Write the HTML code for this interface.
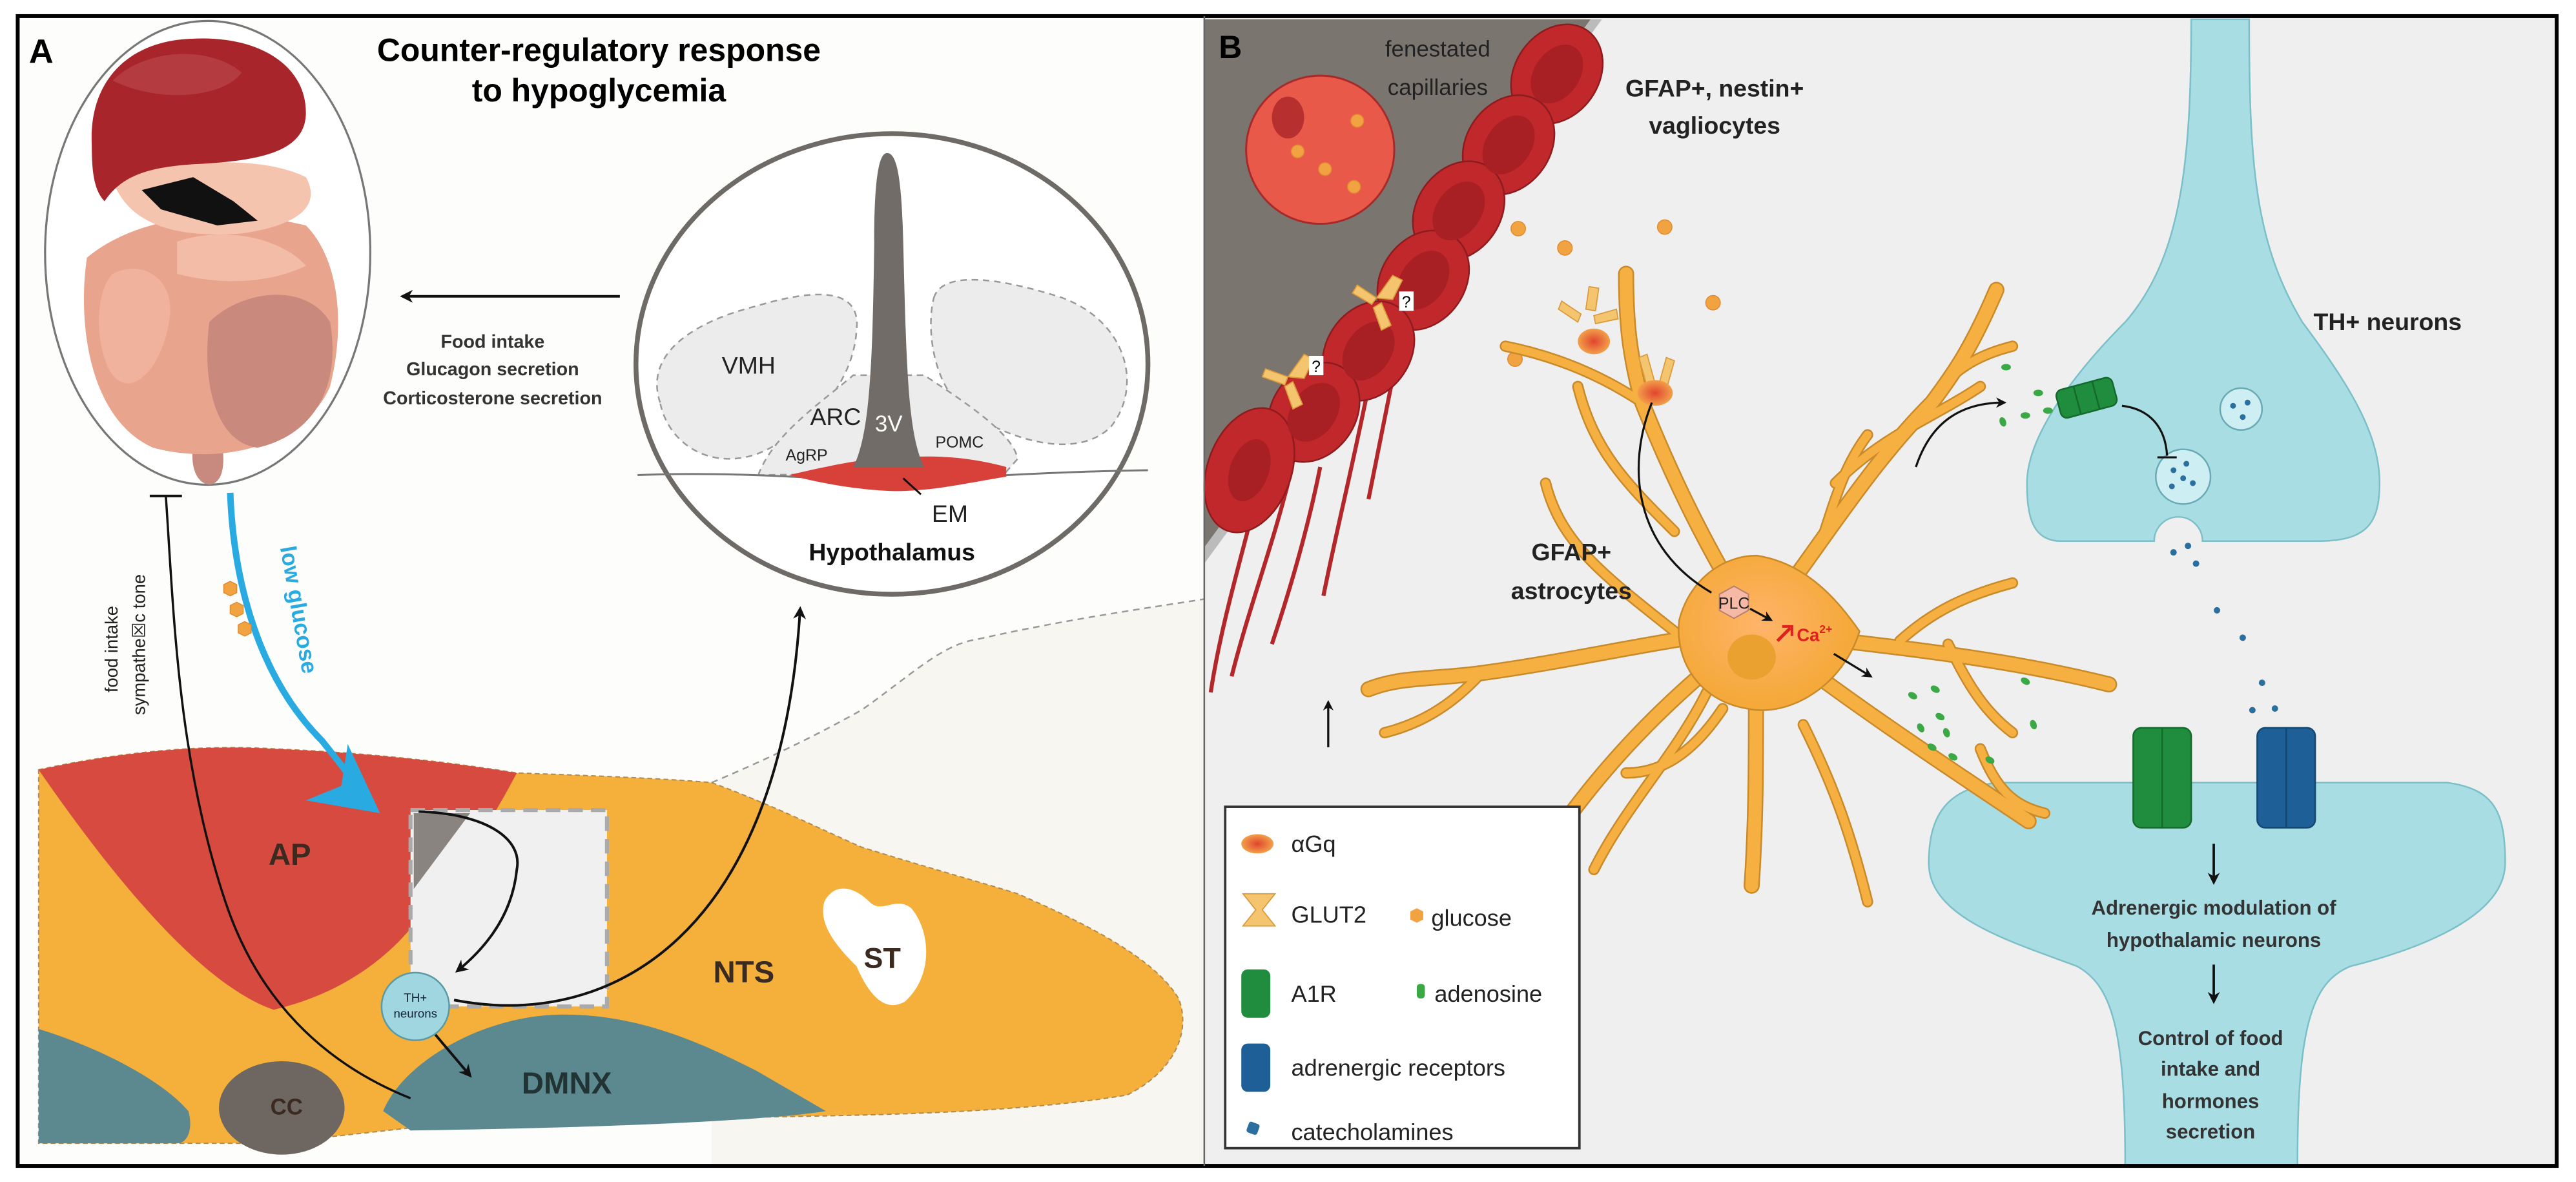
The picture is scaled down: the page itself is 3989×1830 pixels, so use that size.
<!DOCTYPE html>
<html><head><meta charset="utf-8"><style>
html,body{margin:0;padding:0;background:#fff;}
svg{display:block;}
text{font-family:"Liberation Sans",sans-serif;}
</style></head><body>
<svg width="3989" height="1830" viewBox="0 0 1600 734" preserveAspectRatio="none" xmlns="http://www.w3.org/2000/svg">
<defs>
<marker id="ah" viewBox="0 0 10 10" refX="8" refY="5" markerWidth="5" markerHeight="5" orient="auto"><path d="M0,0 L10,5 L0,10 L3,5 Z" fill="#111"/></marker>
<radialGradient id="gq"><stop offset="0" stop-color="#e0452e"/><stop offset="1" stop-color="#f3a04a"/></radialGradient>
<radialGradient id="cell" cx="0.45" cy="0.45"><stop offset="0" stop-color="#ffb46a"/><stop offset="1" stop-color="#f5a93a"/></radialGradient>
</defs>
<rect x="0" y="0" width="1600" height="734" fill="#fff"/>
<rect x="11" y="10" width="737" height="714" fill="#fdfdfc"/>
<path d="M442,486 C480,470 510,455 535,441 C565,420 585,400 607,397 C660,385 710,378 748,372 L748,724 L442,724 Z" fill="#f8f6f1"/>
<rect x="748" y="10" width="840" height="714" fill="#efefef"/>

<!-- ===== PANEL A ===== -->
<text x="18" y="39" font-size="21" font-weight="bold">A</text>
<text x="372" y="38" font-size="20" font-weight="bold" text-anchor="middle">Counter-regulatory response</text>
<text x="372" y="63" font-size="20" font-weight="bold" text-anchor="middle">to hypoglycemia</text>

<ellipse cx="129" cy="157" rx="101" ry="144" fill="#fff" stroke="#777" stroke-width="1.3"/>
<path d="M120,276 C118,290 122,300 130,301 C138,300 140,290 138,276 Z" fill="#c88a7e"/>
<path d="M54,160 C48,200 55,260 95,278 C140,290 190,275 205,240 C215,200 210,160 190,140 C150,130 90,130 54,160 Z" fill="#e9a48e"/>
<path d="M130,200 C150,180 190,175 205,200 C212,240 195,270 160,278 C135,275 125,240 130,200Z" fill="#c9897c"/>
<path d="M70,170 C90,160 110,175 105,200 C100,230 80,250 68,230 C58,210 60,180 70,170Z" fill="#f0b29c"/>
<path d="M110,150 C140,140 175,148 190,165 C170,175 140,178 110,170 Z" fill="#f3bca6"/>
<path d="M70,112 C100,100 160,95 190,110 C200,128 185,140 150,145 C110,148 80,140 70,112Z" fill="#f5c4ae"/>
<path d="M88,118 L120,110 L145,125 L160,137 L135,140 L100,130 Z" fill="#111"/>
<path d="M57,90 C55,50 80,25 120,24 C160,22 190,40 190,70 C190,95 160,100 120,102 C90,104 75,110 65,125 C58,118 57,105 57,90Z" fill="#a8262b"/>
<path d="M70,50 C90,30 130,28 150,45 C140,60 100,65 70,50Z" fill="#bd4a4d" opacity="0.6"/>

<line x1="385" y1="184" x2="250" y2="184" stroke="#111" stroke-width="1.6" marker-end="url(#ah)"/>
<g font-size="11.5" font-weight="bold" fill="#333" text-anchor="middle">
<text x="306" y="216">Food intake</text>
<text x="306" y="233">Glucagon secretion</text>
<text x="306" y="251">Corticosterone secretion</text>
</g>

<ellipse cx="554" cy="226" rx="159" ry="143" fill="#fff" stroke="#6e6a66" stroke-width="3"/>
<path d="M410,250 C400,220 430,200 470,190 C510,178 535,180 532,205 C530,240 500,270 470,282 C440,292 415,275 410,250Z" fill="#ececec" stroke="#999" stroke-width="1" stroke-dasharray="4,3"/>
<path d="M580,185 C585,168 620,172 660,185 C700,200 710,240 690,265 C670,285 630,275 600,255 C580,240 575,205 580,185Z" fill="#ececec" stroke="#999" stroke-width="1" stroke-dasharray="4,3"/>
<path d="M471,295 C480,270 510,250 530,233 L574,233 C600,250 630,270 632,285 L625,293 Z" fill="#ececec" stroke="#999" stroke-width="1" stroke-dasharray="4,3"/>
<path d="M396,295 C450,293 500,296 554,300 C600,296 650,293 713,292" fill="none" stroke="#777" stroke-width="1.2"/>
<path d="M490,295 C520,288 540,284 560,284 C590,282 610,286 625,290 L625,296 C600,300 580,305 555,305 C530,304 510,300 490,295Z" fill="#d8403a"/>
<path d="M530,290 C540,270 542,230 543,150 C543,110 546,95 551,95 C557,95 560,110 561,150 C563,230 564,270 574,290 Z" fill="#716c67"/>
<line x1="561" y1="297" x2="572" y2="307" stroke="#111" stroke-width="1.2"/>
<text x="465" y="232" font-size="15" text-anchor="middle" fill="#222">VMH</text>
<text x="519" y="264" font-size="15" text-anchor="middle" fill="#222">ARC</text>
<text x="552" y="268" font-size="14" text-anchor="middle" fill="#fff">3V</text>
<text x="501" y="286" font-size="10" text-anchor="middle" fill="#222">AgRP</text>
<text x="596" y="278" font-size="10" text-anchor="middle" fill="#222">POMC</text>
<text x="590" y="324" font-size="15" text-anchor="middle" fill="#222">EM</text>
<text x="554" y="348" font-size="15" font-weight="bold" text-anchor="middle" fill="#111">Hypothalamus</text>

<path d="M442,486 C480,470 510,455 535,441 C565,420 585,400 607,397 C660,385 710,378 748,372" fill="none" stroke="#999" stroke-width="1" stroke-dasharray="4,3"/>
<path d="M24,478 C70,468 120,462 170,465 C240,468 290,475 321,480 C380,482 420,484 442,486 C480,500 510,515 535,526 C580,540 610,548 632,555 C690,580 720,600 732,620 C740,640 730,665 700,680 C640,690 560,692 510,693 L290,697 C250,700 200,708 150,710 L24,710 Z" fill="#f4b03a" stroke="#b08a50" stroke-width="0.8" stroke-dasharray="3,2"/>
<path d="M24,478 C70,468 120,462 170,465 C240,468 290,475 321,480 C300,520 275,555 253,579 C230,605 200,620 170,627 C120,610 60,530 24,478 Z" fill="#d64a40"/>
<path d="M24,639 C60,650 100,670 117,690 C120,700 117,710 110,710 L24,710 Z" fill="#5c8890"/>
<ellipse cx="175" cy="688" rx="39" ry="29" fill="#6e6661"/>
<path d="M238,690 C250,660 300,630 350,630 C400,630 440,650 470,665 L513,690 C480,695 400,700 255,702 Z" fill="#5c8890"/>
<path d="M512,560 C518,548 530,550 540,560 C548,568 556,556 566,564 C578,578 580,606 562,622 C548,630 538,614 532,600 C520,588 508,574 512,560Z" fill="#fff"/>
<rect x="255" y="503" width="122" height="122" fill="#f0f0f0" stroke="#aaa" stroke-width="2.5" stroke-dasharray="9,5"/>
<path d="M257,505 L292,505 L257,552 Z" fill="#8a8480"/>
<g font-weight="bold" fill="#3a2a20" text-anchor="middle">
<text x="180" y="537" font-size="19">AP</text>
<text x="462" y="610" font-size="19">NTS</text>
<text x="548" y="601" font-size="18">ST</text>
<text x="352" y="679" font-size="19" fill="#233">DMNX</text>
<text x="178" y="692" font-size="14">CC</text>
</g>
<path d="M260,504 C300,505 325,520 321,540 C318,570 300,590 284,603" fill="none" stroke="#111" stroke-width="1.6" marker-end="url(#ah)"/>
<path d="M282,621 C380,640 485,580 497,378" fill="none" stroke="#111" stroke-width="1.6" marker-end="url(#ah)"/>
<path d="M270,642 L292,668" fill="none" stroke="#111" stroke-width="1.6" marker-end="url(#ah)"/>
<path d="M103,308 C108,380 110,470 140,560 C160,620 200,660 255,682" fill="none" stroke="#111" stroke-width="1.4"/>
<line x1="93" y1="308" x2="113" y2="308" stroke="#111" stroke-width="1.6"/>
<circle cx="258" cy="625" r="21" fill="#9fd6e0" stroke="#5a9aa4" stroke-width="1"/>
<text x="258" y="622" font-size="7.5" text-anchor="middle" fill="#123">TH+</text>
<text x="258" y="632" font-size="7.5" text-anchor="middle" fill="#123">neurons</text>
<path d="M143,306 C145,360 160,420 200,460 C212,475 222,488 226,494" fill="none" stroke="#29abe2" stroke-width="4"/>
<path d="M236,505 L190,497 L212,488 L216,462 Z" fill="#29abe2"/>
<text transform="translate(174,340) rotate(80)" font-size="14" font-weight="bold" fill="#29abe2">low glucose</text>
<g fill="#f2a341" stroke="#e08a30" stroke-width="0.6">
<polygon points="143,361 147,363 147,368 143,370 139,368 139,363"/>
<polygon points="147,374 151,376 151,381 147,383 143,381 143,376"/>
<polygon points="152,386 156,388 156,393 152,395 148,393 148,388"/>
</g>
<text transform="translate(73,430) rotate(-90)" font-size="11" fill="#222">food intake</text>
<text transform="translate(90,444) rotate(-90)" font-size="11" fill="#222">sympathe☒c tone</text>

<!-- ===== PANEL B ===== -->
<path d="M748,12 L988,12 L748,340 Z" fill="#7b756f"/>
<path d="M988,12 L995,12 L748,350 L748,340 Z" fill="#bbb"/>
<text x="757" y="36" font-size="20" font-weight="bold">B</text>
<text x="893" y="35" font-size="14" text-anchor="middle" fill="#222">fenestated</text>
<text x="893" y="59" font-size="14" text-anchor="middle" fill="#222">capillaries</text>
<circle cx="820" cy="93" r="46" fill="#e8594a" stroke="#a52a2a" stroke-width="1.2"/>
<ellipse cx="800" cy="73" rx="10" ry="13" fill="#b82f2f"/>
<g stroke="#b3262a" stroke-width="2.5" fill="none">
<path d="M800,300 C790,340 775,380 765,420"/><path d="M820,290 C812,330 800,370 790,400"/>
<path d="M850,240 C840,290 830,330 822,370"/><path d="M870,210 C862,250 856,280 850,310"/>
<path d="M780,310 C770,350 758,390 752,430"/>
</g>
<g fill="#c0282b" stroke="#8e1b1e" stroke-width="1">
<ellipse cx="967" cy="46" rx="26" ry="33" transform="rotate(35 967 46)"/>
<ellipse cx="937" cy="90" rx="26" ry="33" transform="rotate(35 937 90)"/>
<ellipse cx="906" cy="131" rx="26" ry="33" transform="rotate(35 906 131)"/>
<ellipse cx="884" cy="174" rx="26" ry="33" transform="rotate(35 884 174)"/>
<ellipse cx="850" cy="218" rx="26" ry="33" transform="rotate(35 850 218)"/>
<ellipse cx="816" cy="256" rx="26" ry="33" transform="rotate(35 816 256)"/>
<ellipse cx="776" cy="292" rx="26" ry="40" transform="rotate(20 776 292)"/>
</g>
<g fill="#a81f24">
<ellipse cx="967" cy="46" rx="14" ry="20" transform="rotate(35 967 46)"/>
<ellipse cx="937" cy="90" rx="14" ry="20" transform="rotate(35 937 90)"/>
<ellipse cx="906" cy="131" rx="14" ry="20" transform="rotate(35 906 131)"/>
<ellipse cx="884" cy="174" rx="14" ry="20" transform="rotate(35 884 174)"/>
<ellipse cx="850" cy="218" rx="14" ry="20" transform="rotate(35 850 218)"/>
<ellipse cx="816" cy="256" rx="14" ry="20" transform="rotate(35 816 256)"/>
<ellipse cx="776" cy="292" rx="12" ry="20" transform="rotate(20 776 292)"/>
</g>
<g fill="#f5c46e" stroke="#d99a3a" stroke-width="0.7">
<path d="M855,185 l10,-14 l6,3 l-6,12 z"/><path d="M855,185 l-12,-8 l-3,5 l12,7 z"/><path d="M858,188 l6,14 l-6,3 l-5,-14 z"/>
<path d="M800,234 l10,-14 l6,3 l-6,12 z"/><path d="M800,234 l-14,-5 l-2,5 l14,5 z"/><path d="M803,237 l6,14 l-6,3 l-5,-14 z"/>
</g>
<rect x="869" y="181" width="9" height="12" fill="#fff"/><text x="873.5" y="191" font-size="10" text-anchor="middle">?</text>
<rect x="813" y="221" width="9" height="12" fill="#fff"/><text x="817.5" y="231" font-size="10" text-anchor="middle">?</text>

<text x="1065" y="60" font-size="15" font-weight="bold" text-anchor="middle" fill="#222">GFAP+, nestin+</text>
<text x="1065" y="83" font-size="15" font-weight="bold" text-anchor="middle" fill="#222">vagliocytes</text>

<g fill="#f2a341" stroke="#e08a30" stroke-width="0.6">
<circle cx="943" cy="142" r="4.5"/><circle cx="972" cy="154" r="4.5"/><circle cx="1034" cy="141" r="4.5"/>
<circle cx="1064" cy="188" r="4.5"/><circle cx="941" cy="223" r="4.5"/><circle cx="841" cy="116" r="4"/>
<circle cx="806" cy="94" r="4"/><circle cx="823" cy="105" r="4"/><circle cx="843" cy="75" r="4"/>
</g>

<path d="M1361,12 L1397,12 C1397,100 1400,150 1430,200 C1460,240 1478,270 1478,300 C1478,325 1470,336 1440,336 L1368,336 A15,15 0 0 0 1338,336 L1280,336 C1262,336 1259,320 1259,300 C1259,270 1290,230 1320,200 C1355,160 1361,100 1361,12 Z" fill="#a9dde4" stroke="#7bbfc8" stroke-width="1"/>
<path d="M1198,536 C1198,505 1210,490 1240,486 L1520,486 C1550,490 1556,505 1556,536 C1556,570 1500,590 1460,600 C1435,610 1427,640 1427,724 L1320,724 C1320,640 1312,612 1290,600 C1250,585 1198,570 1198,536 Z" fill="#a9dde4" stroke="#7bbfc8" stroke-width="1"/>
<text x="1483" y="205" font-size="15" font-weight="bold" text-anchor="middle" fill="#222">TH+ neurons</text>
<circle cx="1392" cy="254" r="13" fill="#cdeef2" stroke="#6aaab4" stroke-width="1"/>
<circle cx="1356" cy="296" r="17" fill="#cdeef2" stroke="#6aaab4" stroke-width="1"/>
<g fill="#2a6f9e">
<circle cx="1387" cy="252" r="1.8"/><circle cx="1396" cy="250" r="1.8"/><circle cx="1393" cy="259" r="1.8"/>
<circle cx="1350" cy="292" r="1.8"/><circle cx="1358" cy="288" r="1.8"/><circle cx="1362" cy="300" r="1.8"/><circle cx="1349" cy="302" r="1.8"/><circle cx="1356" cy="297" r="1.8"/>
<circle cx="1350" cy="343" r="2"/><circle cx="1359" cy="339" r="2"/><circle cx="1364" cy="350" r="2"/>
<circle cx="1377" cy="379" r="2"/><circle cx="1393" cy="396" r="2"/><circle cx="1405" cy="424" r="2"/>
<circle cx="1399" cy="441" r="2"/><circle cx="1413" cy="440" r="2"/>
</g>
<g transform="rotate(-15 1296 247)"><rect x="1278" y="238" width="36" height="18" rx="4" fill="#1f8c3e" stroke="#136a2b"/><line x1="1290" y1="238" x2="1290" y2="256" stroke="#136a2b"/><line x1="1302" y1="238" x2="1302" y2="256" stroke="#136a2b"/></g>
<path d="M1318,252 C1335,254 1345,265 1346,283" fill="none" stroke="#111" stroke-width="1.3"/>
<line x1="1340" y1="284" x2="1352" y2="284" stroke="#111" stroke-width="1.3"/>
<rect x="1325" y="452" width="36" height="62" rx="5" fill="#1f8c3e" stroke="#136a2b"/>
<line x1="1343" y1="452" x2="1343" y2="514" stroke="#136a2b"/>
<rect x="1402" y="452" width="36" height="62" rx="5" fill="#1f5f98" stroke="#134670"/>
<line x1="1420" y1="452" x2="1420" y2="514" stroke="#134670"/>
<line x1="1375" y1="524" x2="1375" y2="548" stroke="#111" stroke-width="1.5" marker-end="url(#ah)"/>
<line x1="1375" y1="599" x2="1375" y2="622" stroke="#111" stroke-width="1.5" marker-end="url(#ah)"/>
<g font-size="12.5" font-weight="bold" fill="#333" text-anchor="middle">
<text x="1375" y="568">Adrenergic modulation of</text>
<text x="1375" y="588">hypothalamic neurons</text>
<text x="1373" y="649">Control of food</text>
<text x="1373" y="668">intake and</text>
<text x="1373" y="688">hormones</text>
<text x="1373" y="707">secretion</text>
</g>

<!-- astrocyte -->
<g fill="none" stroke-linecap="round" stroke-linejoin="round">
<g stroke="#c98a2a" stroke-width="10">
<path d="M1091,391 C1060,340 1040,300 1020,250 C1012,220 1010,200 1010,170"/>
<path d="M1091,391 C1040,395 980,410 920,418 C890,422 870,420 850,428"/>
<path d="M1091,391 C1040,430 1000,470 965,520"/>
<path d="M1091,391 C1090,440 1092,490 1088,550"/>
<path d="M1091,391 C1150,400 1230,405 1310,425"/>
<path d="M1091,391 C1130,340 1160,290 1200,250 C1215,230 1225,215 1240,180"/>
<path d="M1091,391 C1140,430 1200,470 1260,510"/>
</g>
<g stroke="#c98a2a" stroke-width="7">
<path d="M1050,400 C1000,360 970,340 960,300 M1040,330 C1010,300 990,280 980,240 M1020,250 C990,230 960,220 935,215"/>
<path d="M1070,440 C1050,470 1030,480 1010,480 M1180,398 C1200,380 1220,370 1250,362 M1210,400 C1220,420 1230,440 1250,455 M1140,300 C1170,270 1200,260 1230,240"/>
<path d="M1060,430 C1040,470 1010,500 990,540 M1120,450 C1140,490 1150,520 1160,560 M920,418 C900,440 880,450 860,455 M1200,250 C1210,230 1230,220 1250,215 M1230,465 C1240,490 1250,500 1270,505 M1130,340 C1140,310 1145,290 1160,270"/>
</g>
<g stroke="#f5b041" stroke-width="8">
<path d="M1091,391 C1060,340 1040,300 1020,250 C1012,220 1010,200 1010,170"/>
<path d="M1091,391 C1040,395 980,410 920,418 C890,422 870,420 850,428"/>
<path d="M1091,391 C1040,430 1000,470 965,520"/>
<path d="M1091,391 C1090,440 1092,490 1088,550"/>
<path d="M1091,391 C1150,400 1230,405 1310,425"/>
<path d="M1091,391 C1130,340 1160,290 1200,250 C1215,230 1225,215 1240,180"/>
<path d="M1091,391 C1140,430 1200,470 1260,510"/>
</g>
<g stroke="#f5b041" stroke-width="5">
<path d="M1050,400 C1000,360 970,340 960,300 M1040,330 C1010,300 990,280 980,240 M1020,250 C990,230 960,220 935,215"/>
<path d="M1070,440 C1050,470 1030,480 1010,480 M1180,398 C1200,380 1220,370 1250,362 M1210,400 C1220,420 1230,440 1250,455 M1140,300 C1170,270 1200,260 1230,240"/>
<path d="M1060,430 C1040,470 1010,500 990,540 M1120,450 C1140,490 1150,520 1160,560 M920,418 C900,440 880,450 860,455 M1200,250 C1210,230 1230,220 1250,215 M1230,465 C1240,490 1250,500 1270,505 M1130,340 C1140,310 1145,290 1160,270"/>
</g>
</g>
<path d="M1091,345 C1125,350 1145,378 1155,392 C1145,425 1112,446 1085,440 C1055,435 1040,410 1043,385 C1050,358 1072,345 1091,345Z" fill="url(#cell)" stroke="#c98a2a" stroke-width="1"/>
<ellipse cx="1088" cy="408" rx="15" ry="14" fill="#eaa12f"/>
<text x="976" y="348" font-size="15" font-weight="bold" text-anchor="middle" fill="#222">GFAP+</text>
<text x="976" y="372" font-size="15" font-weight="bold" text-anchor="middle" fill="#222">astrocytes</text>
<g fill="#f5c46e" stroke="#d99a3a" stroke-width="0.7">
<path d="M982,195 l-12,-8 l-2,5 l12,8 z"/><path d="M985,192 l2,-14 l6,1 l-2,14 z"/><path d="M990,196 l14,-4 l1,6 l-14,3 z"/>
<path d="M1023,240 l-5,-18 l5,-2 l5,18 z"/><path d="M1030,240 l5,-18 l5,2 l-5,18 z"/>
</g>
<ellipse cx="990" cy="212" rx="10" ry="8" fill="url(#gq)"/>
<ellipse cx="1028" cy="244" rx="11" ry="8" fill="url(#gq)"/>
<path d="M1026,250 C1010,290 1015,340 1063,368" fill="none" stroke="#111" stroke-width="1.3"/>
<polygon points="1077,364 1086,369 1086,379 1077,384 1068,379 1068,369" fill="#f6b9a6" stroke="#b88070" stroke-width="0.8"/>
<text x="1077" y="378" font-size="10" text-anchor="middle" fill="#222">PLC</text>
<line x1="1087" y1="378" x2="1100" y2="385" stroke="#111" stroke-width="1.3" marker-end="url(#ah)"/>
<line x1="1104" y1="398" x2="1112" y2="390" stroke="#e02020" stroke-width="2"/>
<path d="M1107,389 L1113,389 L1113,395" fill="none" stroke="#e02020" stroke-width="1.6"/>
<text x="1116" y="398" font-size="11" font-weight="bold" fill="#e02020">Ca<tspan font-size="7" dy="-5">2+</tspan></text>
<line x1="1139" y1="406" x2="1162" y2="420" stroke="#111" stroke-width="1.3" marker-end="url(#ah)"/>
<path d="M1190,290 C1200,260 1220,250 1245,250" fill="none" stroke="#111" stroke-width="1.3" marker-end="url(#ah)"/>
<g fill="#3aa844">
<ellipse cx="1188" cy="432" rx="3" ry="2" transform="rotate(30 1188 432)"/><ellipse cx="1202" cy="428" rx="3" ry="2" transform="rotate(30 1202 428)"/>
<ellipse cx="1205" cy="445" rx="3" ry="2" transform="rotate(30 1205 445)"/><ellipse cx="1193" cy="452" rx="3" ry="2" transform="rotate(60 1193 452)"/>
<ellipse cx="1209" cy="455" rx="3" ry="2" transform="rotate(70 1209 455)"/><ellipse cx="1200" cy="464" rx="3" ry="2" transform="rotate(30 1200 464)"/>
<ellipse cx="1213" cy="470" rx="3" ry="2" transform="rotate(30 1213 470)"/><ellipse cx="1236" cy="472" rx="3" ry="2" transform="rotate(30 1236 472)"/>
<ellipse cx="1258" cy="423" rx="3" ry="2" transform="rotate(30 1258 423)"/><ellipse cx="1263" cy="450" rx="3" ry="2" transform="rotate(70 1263 450)"/>
<ellipse cx="1246" cy="228" rx="3" ry="2"/><ellipse cx="1244" cy="262" rx="3" ry="2" transform="rotate(70 1244 262)"/>
<ellipse cx="1258" cy="258" rx="3" ry="2"/><ellipse cx="1266" cy="244" rx="3" ry="2"/><ellipse cx="1272" cy="255" rx="3" ry="2"/>
</g>
<line x1="825" y1="464" x2="825" y2="436" stroke="#111" stroke-width="1.3" marker-end="url(#ah)"/>

<rect x="761" y="501" width="220" height="212" fill="#fff" stroke="#333" stroke-width="1.5"/>
<ellipse cx="781" cy="524" rx="10" ry="6" fill="url(#gq)"/>
<path d="M772,555 l8,10 l-8,10 l20,0 l-8,-10 l8,-10 z" fill="#f5c46e" stroke="#d99a3a" stroke-width="0.7"/>
<rect x="771" y="602" width="18" height="30" rx="4" fill="#1f8c3e"/>
<rect x="771" y="648" width="18" height="30" rx="4" fill="#1f5f98"/>
<rect x="775" y="697" width="7" height="7" rx="1.5" fill="#2a6f9e" transform="rotate(20 778 700)"/>
<polygon points="880,564 884,566 884,571 880,573 876,571 876,566" fill="#f2a341"/>
<rect x="880" y="611" width="5" height="9" rx="2" fill="#3aa844"/>
<g font-size="14.5" fill="#222">
<text x="802" y="529">αGq</text>
<text x="802" y="573">GLUT2</text>
<text x="889" y="575">glucose</text>
<text x="802" y="622">A1R</text>
<text x="891" y="622">adenosine</text>
<text x="802" y="668">adrenergic receptors</text>
<text x="802" y="708">catecholamines</text>
</g>

<rect x="11" y="10" width="1577" height="714" fill="none" stroke="#000" stroke-width="2.4"/>
<line x1="748" y1="10" x2="748" y2="724" stroke="#666" stroke-width="1"/>
</svg>
</body></html>
